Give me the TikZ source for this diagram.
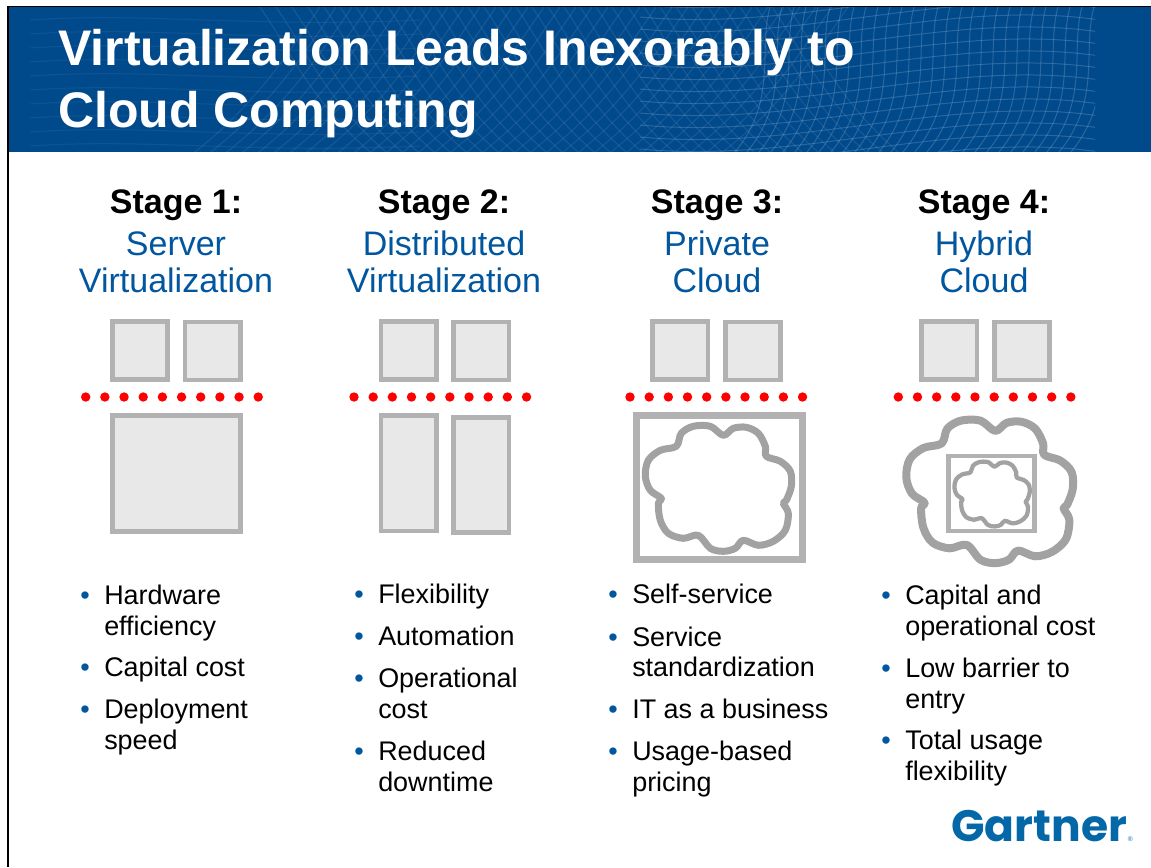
\documentclass[tikz,border=0pt]{standalone}
\usepackage{fontspec}
\setmainfont{Liberation Sans}
\newfontfamily\logofont{Poppins}
\definecolor{headblue}{HTML}{004A8C}
\definecolor{stageblue}{HTML}{00569F}
\definecolor{boxgray}{HTML}{B2B2B2}
\definecolor{boxfill}{HTML}{E8E8E8}
\definecolor{cloudgray}{HTML}{A2A2A2}
\definecolor{logoblue}{HTML}{0468A8}
\tikzset{
	titletext/.style={anchor=base west,inner sep=0.75pt,text=white,align=left,font=\fontsize{37.5}{46.5}\selectfont\bfseries},
	stagetext/.style={anchor=base,inner sep=0.75pt,font=\fontsize{25.5}{27.75}\selectfont\bfseries},
	nametext/.style={anchor=base,inner sep=0.75pt,text=stageblue,align=center,font=\fontsize{25.5}{27.75}\selectfont},
	itemtext/.style={anchor=base west,inner sep=0.75pt,align=left,font=\fontsize{20.2}{23.25}\selectfont},
	itemdot/.style={anchor=base,inner sep=0.75pt,text=stageblue,font=\fontsize{20.2}{23.25}\selectfont},
	vmbox/.style={draw=boxgray,fill=boxfill,line width=3.5pt},
	framebox/.style={draw=boxgray,line width=3.5pt},
	cloudline/.style={draw=cloudgray,line join=round},
	meshline/.style={white,line width=0.75pt,opacity=0.16},
}
\newcommand{\cloudcurve}{plot [smooth cycle,tension=0.55] coordinates {(5,-53) (15,-60) (28,-61) (40,-55) (47,-42) (48,-32) (62,-27) (72,-17) (73,-2) (68,12) (65,15) (70,25) (67,42) (55,53) (40,57) (25,52) (17,60) (5,63) (-8,60) (-20,47) (-35,50) (-50,45) (-58,32) (-60,15) (-57,10) (-68,2) (-73,-12) (-70,-28) (-58,-38) (-42,-42) (-37,-55) (-25,-62) (-8,-62)}}
\newcommand{\dotrow}[1]{\foreach \n in {0,...,9} \fill [red] (#1+\n*19.17,397) circle [radius=4.7];}
\begin{document}
\begin{tikzpicture}[x=0.75pt,y=0.75pt,yscale=-1,xscale=1]
	\useasboundingbox (0,0) rectangle (1151,867);
	\fill [white] (0,0) rectangle (1151,867);
	\fill [headblue] (8,7) rectangle (1151,152);
	\begin{scope}
	\clip (8,7) rectangle (1095,152);
	\foreach \x in {770,782,...,1110} \draw [meshline] (\x,7) .. controls (\x-12,50) and (\x+8,100) .. (\x-35,152);
	\foreach \y in {-20,-8,...,190} \draw [meshline] (640,\y+25) .. controls (800,\y+40) and (950,\y-18) .. (1100,\y+4);
	\foreach \x in {260,276,...,800} \draw [meshline,opacity=0.09] (\x,7) .. controls (\x+30,50) and (\x+50,100) .. (\x+110,152);
	\foreach \x in {320,336,...,860} \draw [meshline,opacity=0.09] (\x,7) .. controls (\x-30,50) and (\x-60,100) .. (\x-125,152);
	\foreach \y in {20,34,...,150} \draw [meshline,opacity=0.06] (30,\y) .. controls (150,\y-8) and (250,\y+8) .. (420,\y);
	\end{scope}
	\draw [line width=1.1pt] (8,6.5) -- (1151,6.5);
	\draw [line width=1.1pt] (8,6) -- (8,867);
	\draw (57,65) node [titletext] (title) {Virtualization Leads Inexorably to};
	\draw (57,127) node [titletext] (titleb) {Cloud Computing};

	\draw (176,213) node [stagetext] (stagea) {Stage 1:};
	\draw (444,213) node [stagetext] (stageb) {Stage 2:};
	\draw (717,213) node [stagetext] (stagec) {Stage 3:};
	\draw (984,213) node [stagetext] (staged) {Stage 4:};
	\draw (176,255) node [nametext] (nameaa) {Server};
	\draw (176,292) node [nametext] (nameab) {Virtualization};
	\draw (444,255) node [nametext] (nameba) {Distributed};
	\draw (444,292) node [nametext] (namebb) {Virtualization};
	\draw (717,255) node [nametext] (nameca) {Private};
	\draw (717,292) node [nametext] (namecb) {Cloud};
	\draw (984,255) node [nametext] (nameda) {Hybrid};
	\draw (984,292) node [nametext] (namedb) {Cloud};

	\draw [vmbox] (112.3,321.3) rectangle (167.7,379.4);
	\draw [vmbox] (185,322) rectangle (240.4,380);
	\draw [vmbox] (112.3,415.6) rectangle (240.4,531.7);
	\dotrow{85.7}
	\draw [vmbox] (381,321.3) rectangle (436.4,379.4);
	\draw [vmbox] (453.7,322) rectangle (509.1,380);
	\draw [vmbox] (381,415.6) rectangle (436.4,531);
	\draw [vmbox] (453.7,417.3) rectangle (509.1,532.7);
	\dotrow{354}
	\draw [vmbox] (652.6,321.3) rectangle (708,379.4);
	\draw [vmbox] (725.3,322) rectangle (780.7,380);
	\dotrow{630}
	\draw [framebox,line width=5.25pt] (636.2,415.8) rectangle (802.3,559.8);
	\draw [cloudline,line width=5.25pt,shift={(718.3,488.3)}] \cloudcurve;
	\draw [vmbox] (921.6,321.3) rectangle (977,379.4);
	\draw [vmbox] (994.3,322) rectangle (1049.7,380);
	\dotrow{898.3}
	\draw [cloudline,line width=6pt,shift={(989.5,491.3)},scale=1.14] \cloudcurve;
	\draw [framebox] (948.3,456) rectangle (1034.7,531);
	\draw [cloudline,line width=3.2pt,shift={(992,494)},scale=0.515] \cloudcurve;

	\draw (85,604) node [itemdot] (dotaa) {•};
	\draw (103,604) node [itemtext] (itemaa) {Hardware};
	\draw (103,635) node [itemtext] (itemab) {efficiency};
	\draw (85,676) node [itemdot] (dotab) {•};
	\draw (103,676) node [itemtext] (itemac) {Capital cost};
	\draw (85,718) node [itemdot] (dotac) {•};
	\draw (103,718) node [itemtext] (itemad) {Deployment};
	\draw (103,749) node [itemtext] (itemae) {speed};

	\draw (359,603) node [itemdot] (dotba) {•};
	\draw (377,603) node [itemtext] (itemba) {Flexibility};
	\draw (359,645) node [itemdot] (dotbb) {•};
	\draw (377,645) node [itemtext] (itembb) {Automation};
	\draw (359,687) node [itemdot] (dotbc) {•};
	\draw (377,687) node [itemtext] (itembc) {Operational};
	\draw (377,718) node [itemtext] (itembd) {cost};
	\draw (359,760) node [itemdot] (dotbd) {•};
	\draw (377,760) node [itemtext] (itembe) {Reduced};
	\draw (377,791) node [itemtext] (itembf) {downtime};

	\draw (613,603) node [itemdot] (dotca) {•};
	\draw (631,603) node [itemtext] (itemca) {Self-service};
	\draw (613,646) node [itemdot] (dotcb) {•};
	\draw (631,646) node [itemtext] (itemcb) {Service};
	\draw (631,676) node [itemtext] (itemcc) {standardization};
	\draw (613,718) node [itemdot] (dotcc) {•};
	\draw (631,718) node [itemtext] (itemcd) {IT as a business};
	\draw (613,760) node [itemdot] (dotcd) {•};
	\draw (631,760) node [itemtext] (itemce) {Usage-based};
	\draw (631,791) node [itemtext] (itemcf) {pricing};

	\draw (886,604) node [itemdot] (dotda) {•};
	\draw (904,604) node [itemtext] (itemda) {Capital and};
	\draw (904,635) node [itemtext] (itemdb) {operational cost};
	\draw (886,677) node [itemdot] (dotdb) {•};
	\draw (904,677) node [itemtext] (itemdc) {Low barrier to};
	\draw (904,708) node [itemtext] (itemdd) {entry};
	\draw (886,749) node [itemdot] (dotdc) {•};
	\draw (904,749) node [itemtext] (itemde) {Total usage};
	\draw (904,780) node [itemtext] (itemdf) {flexibility};

	\draw (951,841) node [anchor=base west,inner sep=0pt,text=logoblue,font=\fontsize{33}{33}\selectfont\logofont\bfseries] (logo) {Gartner};
	\draw (logo.base east) node [anchor=base west,inner sep=0.3pt,text=logoblue,font=\fontsize{5}{5}\selectfont] (logomark) {®};
\end{tikzpicture}
\end{document}
